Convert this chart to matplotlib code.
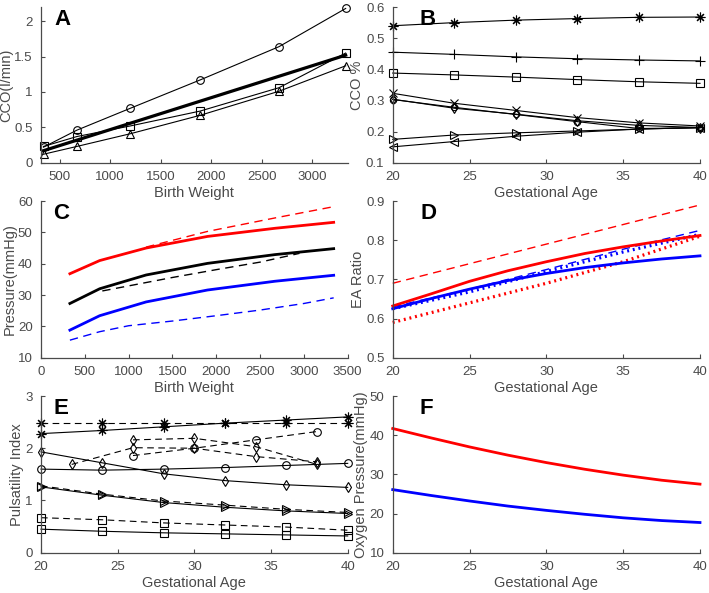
import numpy as np
import matplotlib
matplotlib.use('Agg')
import matplotlib.pyplot as plt
from matplotlib.ticker import FuncFormatter

plt.rcParams['font.family'] = ['Liberation Sans', 'DejaVu Sans']

# ---- Panel A: CCO vs birth weight
bw = [340, 670, 1200, 1890, 2670, 3330]
a_circle = [0.22, 0.46, 0.77, 1.17, 1.64, 2.18]
a_square = [0.23, 0.37, 0.52, 0.73, 1.06, 1.55]
a_triangle = [0.12, 0.23, 0.41, 0.67, 1.01, 1.37]
a_thick_x = [340, 3330]
a_thick = [0.17, 1.52]

# ---- Panel B: CCO % vs gestational age
ga = [20, 24, 28, 32, 36, 40]
b_star = [0.54, 0.55, 0.558, 0.563, 0.567, 0.568]
b_plus = [0.455, 0.448, 0.44, 0.434, 0.43, 0.427]
b_square = [0.388, 0.382, 0.375, 0.367, 0.36, 0.355]
b_x = [0.323, 0.291, 0.268, 0.245, 0.228, 0.218]
b_diamond = [0.304, 0.275, 0.256, 0.235, 0.22, 0.213]
b_circle = [0.303, 0.278, 0.255, 0.232, 0.21, 0.212]
b_right = [0.175, 0.189, 0.196, 0.202, 0.208, 0.213]
b_left = [0.151, 0.168, 0.185, 0.198, 0.208, 0.213]

# ---- Panel C: pressure vs birth weight
c_x = [330, 670, 1200, 1900, 2670, 3340]
c_red = [36.8, 41.0, 45.0, 48.7, 51.3, 53.2]
c_black = [27.3, 32.0, 36.4, 40.1, 42.9, 44.8]
c_blue = [18.8, 23.4, 27.8, 31.6, 34.4, 36.3]
c_red_dash_x = [1200, 1900, 2670, 3340]
c_red_dash = [45.3, 50.3, 54.6, 58.2]
c_black_dash_x = [700, 1500, 2000, 2500, 2950]
c_black_dash = [31.3, 35.6, 38.1, 40.5, 43.3]
c_blue_dash_x = [330, 670, 1000, 1500, 2000, 2500, 3000, 3340]
c_blue_dash = [15.6, 18.3, 20.2, 21.7, 23.4, 25.2, 27.3, 29.1]

# ---- Panel D: EA ratio vs gestational age
d_x = [20, 22.5, 25, 27.5, 30, 32.5, 35, 37.5, 40]
d_red = [0.632, 0.663, 0.695, 0.722, 0.745, 0.766, 0.783, 0.798, 0.812]
d_blue = [0.625, 0.651, 0.675, 0.697, 0.715, 0.73, 0.742, 0.752, 0.76]
d_x5 = [20, 25, 30, 35, 40]
d_blue_dot = [0.625, 0.668, 0.72, 0.77, 0.815]
d_blue_dash = [0.63, 0.675, 0.725, 0.777, 0.825]
d_red_dot = [0.59, 0.64, 0.69, 0.745, 0.81]
d_red_dash_x = [20, 40]
d_red_dash = [0.69, 0.89]

# ---- Panel E: pulsatility index vs gestational age
e_star = [2.28, 2.34, 2.41, 2.48, 2.54, 2.60]
e_star_dash = [2.48, 2.48, 2.48, 2.48, 2.48, 2.48]
e_circle = [1.60, 1.58, 1.60, 1.63, 1.67, 1.71]
e_diamond = [1.93, 1.72, 1.51, 1.38, 1.30, 1.25]
e_right = [1.26, 1.10, 0.96, 0.87, 0.80, 0.75]
e_right_dash = [1.28, 1.12, 0.99, 0.91, 0.83, 0.77]
e_square_dash = [0.67, 0.63, 0.57, 0.53, 0.49, 0.43]
e_square = [0.45, 0.41, 0.38, 0.36, 0.34, 0.32]
e_odd_x = [22, 26, 30, 34, 38]
e_diamond_dash = [1.69, 2.01, 2.0, 1.84, 1.74]
e_x4 = [26, 30, 34, 38]
e_diamond_dash2 = [2.16, 2.19, 2.03, 1.69]
e_circle_dash = [1.86, 2.0, 2.16, 2.32]

# ---- Panel F: oxygen pressure vs gestational age
f_x = [20, 22.5, 25, 27.5, 30, 32.5, 35, 37.5, 40]
f_red = [41.7, 39.3, 37.0, 34.9, 33.0, 31.3, 29.8, 28.5, 27.5]
f_blue = [26.1, 24.6, 23.2, 21.9, 20.8, 19.8, 18.9, 18.2, 17.7]

GRAY = '#4a4a4a'
ASTER = (8, 2, 0)  # matlab-like '*' asterisk
fig = plt.figure(figsize=(7.09, 5.93), dpi=100)

col_l = [0.0578, 0.5539]
col_w = [0.4326, 0.4334]
row_b = [0.7256, 0.3968, 0.068]
row_h = [0.2625, 0.2642, 0.2642]


def make_ax(r, c):
    ax = fig.add_axes([col_l[c], row_b[r], col_w[c], row_h[r]])
    for s in ['top', 'right']:
        ax.spines[s].set_visible(False)
    for s in ['left', 'bottom']:
        ax.spines[s].set_color(GRAY)
        ax.spines[s].set_linewidth(0.9)
    ax.tick_params(direction='in', length=3, width=0.8, colors=GRAY,
                   labelsize=9.5, pad=6)
    ax.yaxis.set_major_formatter(FuncFormatter(lambda v, p: '%g' % round(v, 3)))
    return ax


def label(ax, letter, xpos):
    ax.text(xpos, 0.99, letter, transform=ax.transAxes, fontsize=16,
            fontweight='bold', va='top', ha='center', color='black')


def axlabels(ax, xl, yl):
    ax.set_xlabel(xl, fontsize=10.5, color=GRAY, labelpad=2)
    ax.set_ylabel(yl, fontsize=10.5, color=GRAY, labelpad=1)


mk = dict(color='black', lw=0.8, mfc='none', mec='black', ms=5.5, mew=0.8)

# A
ax = make_ax(0, 0)
ax.plot(bw, a_circle, marker='o', **mk)
ax.plot(bw, a_square, marker='s', **mk)
ax.plot(bw, a_triangle, marker='^', **mk)
ax.plot(a_thick_x, a_thick, color='black', lw=2.3)
ax.set_xlim(315, 3350)
ax.set_ylim(0, 2.2)
ax.set_xticks([500, 1000, 1500, 2000, 2500, 3000])
ax.set_yticks([0, 0.5, 1, 1.5, 2])
axlabels(ax, 'Birth Weight', 'CCO(l/min)')
label(ax, 'A', 0.07)

# B
ax = make_ax(0, 1)
ax.plot(ga, b_star, marker=ASTER, **dict(mk, ms=7))
ax.plot(ga, b_plus, marker='+', **dict(mk, ms=7))
ax.plot(ga, b_square, marker='s', **mk)
ax.plot(ga, b_x, marker='x', **mk)
ax.plot(ga, b_diamond, marker='d', **mk)
ax.plot(ga, b_circle, marker='o', **dict(mk, ms=4.5))
ax.plot(ga, b_right, marker='>', **mk)
ax.plot(ga, b_left, marker='<', **mk)
ax.set_xlim(20, 40)
ax.set_ylim(0.1, 0.6)
ax.set_xticks([20, 25, 30, 35, 40])
ax.set_yticks([0.1, 0.2, 0.3, 0.4, 0.5, 0.6])
axlabels(ax, 'Gestational Age', 'CCO %')
label(ax, 'B', 0.115)

# C
ax = make_ax(1, 0)
ax.plot(c_red_dash_x, c_red_dash, color='red', lw=1.0, ls=(0, (6, 4)))
ax.plot(c_black_dash_x, c_black_dash, color='black', lw=1.0, ls=(0, (6, 4)))
ax.plot(c_blue_dash_x, c_blue_dash, color='blue', lw=1.0, ls=(0, (6, 4)))
ax.plot(c_x, c_red, color='red', lw=2.0)
ax.plot(c_x, c_black, color='black', lw=2.0)
ax.plot(c_x, c_blue, color='blue', lw=2.0)
ax.set_xlim(0, 3500)
ax.set_ylim(10, 60)
ax.set_xticks(np.arange(0, 3501, 500))
ax.set_yticks([10, 20, 30, 40, 50, 60])
axlabels(ax, 'Birth Weight', 'Pressure(mmHg)')
label(ax, 'C', 0.065)

# D
ax = make_ax(1, 1)
ax.plot(d_red_dash_x, d_red_dash, color='red', lw=1.0, ls=(0, (6, 4)))
ax.plot(d_x5, d_blue_dash, color='blue', lw=1.0, ls=(0, (6, 4)))
ax.plot(d_x5, d_red_dot, color='red', lw=2.3, ls=(0, (0.6, 1.2)))
ax.plot(d_x5, d_blue_dot, color='blue', lw=2.3, ls=(0, (0.6, 1.2)))
ax.plot(d_x, d_red, color='red', lw=2.0)
ax.plot(d_x, d_blue, color='blue', lw=2.0)
ax.set_xlim(20, 40)
ax.set_ylim(0.5, 0.9)
ax.set_xticks([20, 25, 30, 35, 40])
ax.set_yticks([0.5, 0.6, 0.7, 0.8, 0.9])
axlabels(ax, 'Gestational Age', 'EA Ratio')
label(ax, 'D', 0.115)

# E
ax = make_ax(2, 0)
dk = dict(mk, ls=(0, (6, 4)))
ax.plot(ga, e_star_dash, marker=ASTER, **dict(dk, ms=7))
ax.plot(ga, e_star, marker=ASTER, **dict(mk, ms=7))
ax.plot(e_odd_x, e_diamond_dash, marker='d', **dk)
ax.plot(e_x4, e_diamond_dash2, marker='d', **dk)
ax.plot(e_x4, e_circle_dash, marker='o', **dk)
ax.plot(ga, e_circle, marker='o', **mk)
ax.plot(ga, e_diamond, marker='d', **mk)
ax.plot(ga, e_right_dash, marker='>', **dk)
ax.plot(ga, e_right, marker='>', **mk)
ax.plot(ga, e_square_dash, marker='s', **dk)
ax.plot(ga, e_square, marker='s', **mk)
ax.set_xlim(20, 40)
ax.set_ylim(0, 3)
ax.set_xticks([20, 25, 30, 35, 40])
ax.set_yticks([0, 1, 2, 3])
axlabels(ax, 'Gestational Age', 'Pulsatility Index')
label(ax, 'E', 0.065)

# F
ax = make_ax(2, 1)
ax.plot(f_x, f_red, color='red', lw=2.0)
ax.plot(f_x, f_blue, color='blue', lw=2.0)
ax.set_xlim(20, 40)
ax.set_ylim(10, 50)
ax.set_xticks([20, 25, 30, 35, 40])
ax.set_yticks([10, 20, 30, 40, 50])
axlabels(ax, 'Gestational Age', 'Oxygen Pressure(mmHg)')
label(ax, 'F', 0.11)

for a in fig.axes:
    for ln in a.lines:
        ln.set_clip_on(False)

fig.savefig('out.png', dpi=100)
